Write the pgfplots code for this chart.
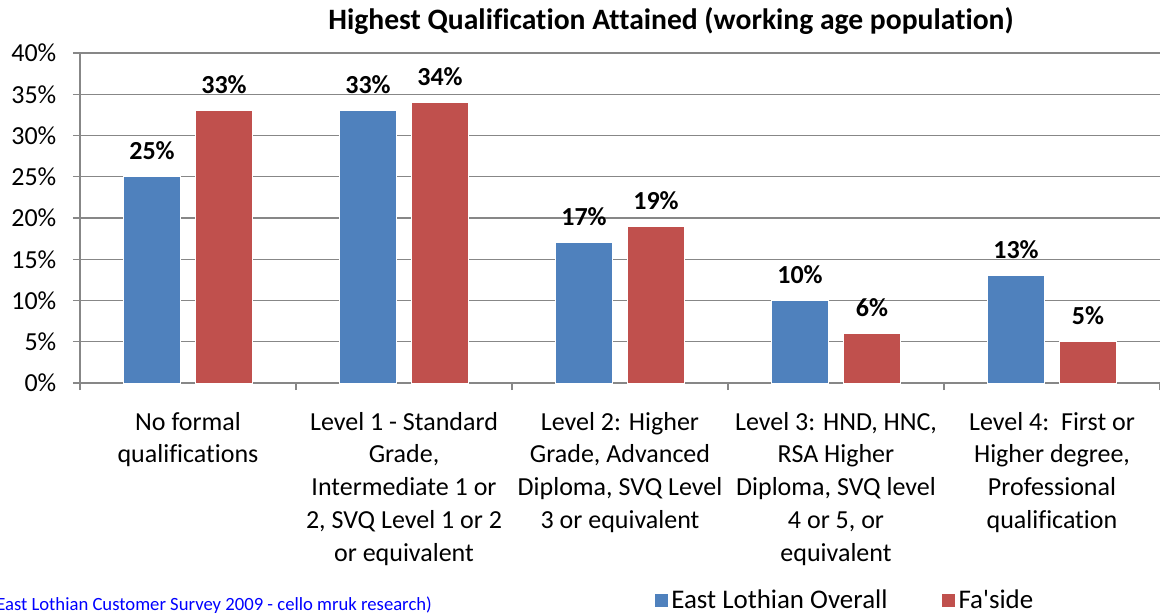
\documentclass[border=0pt]{standalone}
\usepackage{fontspec}
\setmainfont{Carlito}[Ligatures={TeXOff,CommonOff}]
\usepackage{pgfplots}
\pgfplotsset{compat=1.18}
\definecolor{cblue}{HTML}{4F81BD}
\definecolor{cred}{HTML}{C0504D}
\definecolor{gridc}{HTML}{878787}
\newcommand{\lblfont}{\fontsize{19.5}{24.6}\selectfont}
\begin{document}
\begin{tikzpicture}
\useasboundingbox (0,0) rectangle (870pt,461.25pt);
\begin{axis}[
  at={(60pt,174pt)}, anchor=south west,
  scale only axis, width=810pt, height=247.5pt,
  ybar=11.25pt, bar width=42.75pt,
  xmin=-0.5, xmax=4.5, ymin=0, ymax=40,
  axis x line*=bottom, axis y line*=left,
  axis line style={draw=gridc, line width=1pt, -},
  ymajorgrids, grid style={draw=gridc, line width=1pt},
  ytick={0,5,...,40},
  yticklabel={\pgfmathprintnumber{\tick}\%},
  /pgf/number format/assume math mode=true,
  yticklabel style={font=\lblfont, xshift=-9pt},
  xtick={0,...,4},
  xticklabels={{No formal\\qualifications},
    {Level 1 - Standard\\Grade,\\Intermediate 1 or\\2, SVQ Level 1 or 2\\or equivalent},
    {Level 2: Higher\\Grade, Advanced\\Diploma, SVQ Level\\3 or equivalent},
    {Level 3: HND, HNC,\\RSA Higher\\Diploma, SVQ level\\4 or 5, or\\equivalent},
    {Level 4:\ \ First or\\Higher degree,\\Professional\\qualification}},
  xticklabel style={font=\lblfont, align=center, anchor=north, yshift=-13pt},
  major x tick style={draw=none},
  minor xtick={-0.5,0.5,...,4.5},
  tick align=outside, major tick length=5.25pt, minor tick length=5.25pt,
  tick style={draw=gridc, line width=1pt},
  nodes near coords={\pgfmathprintnumber{\pgfplotspointmeta}\%},
  every node near coord/.append style={font=\bfseries\lblfont, anchor=base, inner sep=0pt, yshift=12.75pt},
  legend columns=2,
  legend style={draw=none, fill=none, at={(0.5272,-0.658)}, anchor=west, font=\fontsize{20.2}{24}\selectfont,
     /tikz/every even column/.append style={column sep=38pt}},
  legend image code/.code={\fill[#1] (-4.5pt,-5.25pt) rectangle (6pt,5.25pt);},
  legend cell align=left,
]
\addplot[fill=cblue, draw=white, line width=0.75pt] coordinates {(0,25) (1,33) (2,17) (3,10) (4,13)};
\addplot[fill=cred, draw=white, line width=0.75pt] coordinates {(0,33) (1,34) (2,19) (3,6) (4,5)};
\legend{East Lothian Overall, Fa'side}
\end{axis}
\node[anchor=base, font=\bfseries\fontsize{22.2}{26}\selectfont, inner sep=0pt] at (503.25pt,438.75pt) {Highest Qualification Attained (working age population)};
\node[anchor=base west, font=\fontsize{14}{16}\selectfont, text=blue, inner sep=0pt] at (-3pt,3.75pt) {East Lothian Customer Survey 2009 - cello mruk research)};
\end{tikzpicture}
\end{document}
